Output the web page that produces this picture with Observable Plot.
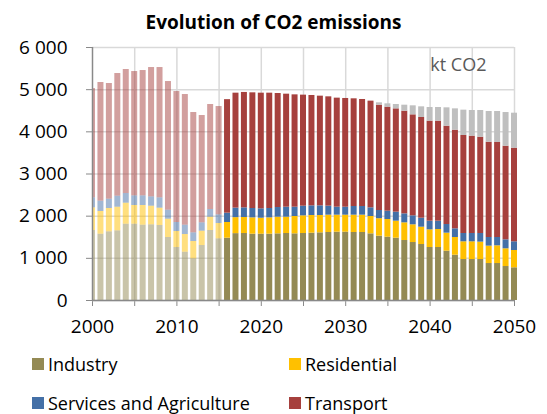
<!DOCTYPE html>
<html>
<head>
<meta charset="utf-8">
<script src="https://cdn.jsdelivr.net/npm/d3@7"></script>
<script src="https://cdn.jsdelivr.net/npm/@observablehq/plot@0.6"></script>
<style>
  html, body { margin: 0; padding: 0; background: #fff; }
  body { width: 547px; height: 414px; overflow: hidden; font-family: "Open Sans", sans-serif; }
  #title { height: 40px; box-sizing: border-box; padding-top: 12px; text-align: center;
           font-weight: bold; font-size: 19px; line-height: 20px; color: #000; }
  #chart svg { display: block; }
  #chart [aria-label^="x-axis"] text, #chart [aria-label^="y-axis"] text { fill: #000; }
  #legend { display: grid; grid-template-columns: 257px auto; grid-auto-rows: 39px;
            padding-left: 32px; padding-top: 4px; font-size: 18px; color: #000; }
  .item { display: flex; align-items: center; white-space: nowrap; }
  .sw { width: 12px; height: 12px; margin-right: 4px; flex: none; }
</style>
</head>
<body>
<div id="title"></div>
<div id="chart"></div>
<div id="legend"></div>
<script>
const chartTitle = "Evolution of CO2 emissions";
const unitLabel = "kt CO2";

const years = [2000,2001,2002,2003,2004,2005,2006,2007,2008,2009,
               2010,2011,2012,2013,2014,2015,2016,2017,2018,2019,
               2020,2021,2022,2023,2024,2025,2026,2027,2028,2029,
               2030,2031,2032,2033,2034,2035,2036,2037,2038,2039,
               2040,2041,2042,2043,2044,2045,2046,2047,2048,2049,2050];
const lastHistoricalYear = 2015;

const seriesNames  = ["Industry", "Residential", "Services and Agriculture", "Transport", "Other"];
const seriesColors = ["#948A54", "#FFC000", "#4470A7", "#A6403D", "#BFBFBF"];
const legendSeries = ["Industry", "Residential", "Services and Agriculture", "Transport"];

const industry = [1660,1573,1629,1652,1810,1810,1787,1795,1779,1494,
                  1257,1146,989,1304,1660,1463,1478,1586,1589,1573,
                  1573,1573,1581,1589,1581,1589,1597,1605,1613,1621,
                  1621,1613,1613,1581,1526,1502,1478,1423,1375,1328,
                  1257,1257,1170,1075,972,972,972,877,877,806,775];
const residential = [538,538,553,561,498,443,466,442,411,435,
                     379,419,410,340,316,363,372,379,379,387,
                     379,387,395,387,411,419,419,411,411,403,
                     403,411,411,411,414,419,403,419,420,411,
                     419,427,427,419,420,420,412,412,420,420,411];
const services = [237,245,221,261,229,229,229,221,245,213,
                  214,222,206,198,182,206,221,226,229,222,
                  222,222,229,237,221,229,229,229,213,189,
                  189,205,205,206,194,197,214,213,213,213,
                  205,197,205,206,197,197,205,205,197,213,206];
const transport = [2590,2814,2743,2909,2941,2948,2972,3067,3090,3051,
                   3106,3098,2853,2545,2490,2568,2692,2726,2737,2743,
                   2743,2735,2704,2680,2664,2633,2617,2601,2593,2586,
                   2578,2554,2538,2530,2498,2467,2450,2435,2395,2388,
                   2372,2372,2332,2339,2324,2308,2284,2260,2253,2220,2220];
const other = [0,0,0,0,0,0,0,0,0,0,
               0,0,0,0,0,0,0,0,0,0,
               0,0,0,0,0,0,0,0,0,0,
               0,0,0,0,56,79,103,142,214,253,
               324,324,435,506,601,609,633,728,735,799,830];

const yTicks = [0,1000,2000,3000,4000,5000,6000];
const xTicks = [2000,2005,2010,2015,2020,2025,2030,2035,2040,2045,2050];
const xLabelEvery = 10;

// long table
const seriesValues = [industry, residential, services, transport, other];
const table = [];
years.forEach((year, i) => {
  seriesValues.forEach((arr, k) => {
    table.push({year, series: seriesNames[k], value: arr[i]});
  });
});
const historical = table.filter(d => d.year <= lastHistoricalYear);
const projection = table.filter(d => d.year > lastHistoricalYear);

const halfBar = 0.355;
function stacked() {
  const {x: _x, ...opts} = Plot.stackY({
    x: "year",
    x1: d => Math.max(d.year - halfBar, years[0]),
    x2: d => d.year + halfBar,
    y: "value",
    fill: "series",
    order: seriesNames
  });
  return opts;
}

const fmt = d3.formatLocale({decimal: ",", thousands: " ", grouping: [3]}).format(",");

document.getElementById("title").textContent = chartTitle;

const plot = Plot.plot({
  width: 547,
  height: 300,
  marginLeft: 92,
  marginRight: 33,
  marginTop: 7,
  marginBottom: 40,
  style: {fontFamily: "'Open Sans', sans-serif", fontSize: "19px", color: "#898989", background: "#fff", overflow: "visible"},
  x: {domain: [years[0], years[years.length - 1]], ticks: xTicks,
      tickFormat: d => d % xLabelEvery === 0 ? String(d) : "",
      tickSize: 6, tickPadding: 13, label: null},
  y: {domain: [yTicks[0], yTicks[yTicks.length - 1]], ticks: yTicks, tickFormat: fmt,
      tickSize: 6, tickPadding: 19, label: null},
  color: {domain: seriesNames, range: seriesColors},
  marks: [
    Plot.ruleY(yTicks, {stroke: "#d9d9d9", strokeWidth: 1.5}),
    Plot.ruleX(xTicks.filter(t => t > years[0]), {stroke: "#d9d9d9", strokeWidth: 1.5}),
    Plot.rectY(historical, {...stacked(), fillOpacity: 0.5}),
    Plot.rectY(projection, stacked()),
    Plot.ruleX([years[0]], {stroke: "#898989", strokeWidth: 1.5}),
    Plot.ruleY([yTicks[0]], {stroke: "#898989", strokeWidth: 1.5}),
    Plot.text([unitLabel], {text: d => d, frameAnchor: "top-right", textAnchor: "end", lineAnchor: "top",
                            dx: -28, dy: 11, fill: "#595959", fontSize: 18})
  ]
});
document.getElementById("chart").appendChild(plot);

const legend = document.getElementById("legend");
legendSeries.forEach(name => {
  const item = document.createElement("div");
  item.className = "item";
  const sw = document.createElement("span");
  sw.className = "sw";
  sw.style.background = seriesColors[seriesNames.indexOf(name)];
  const label = document.createElement("span");
  label.textContent = name;
  item.appendChild(sw);
  item.appendChild(label);
  legend.appendChild(item);
});
</script>
</body>
</html>
